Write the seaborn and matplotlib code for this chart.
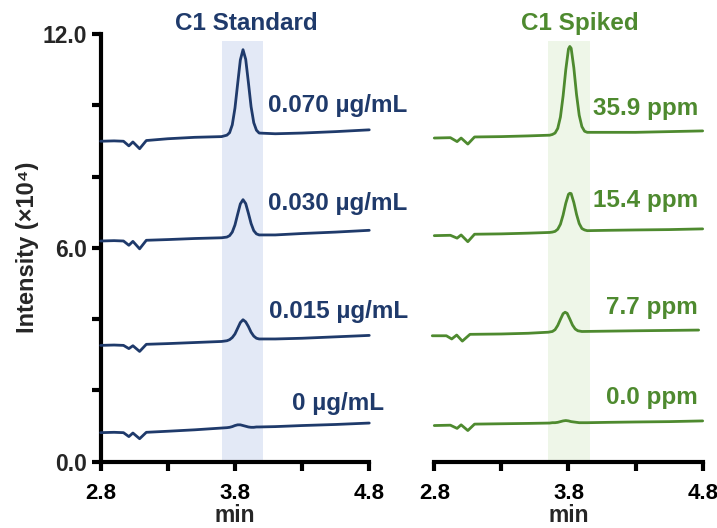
import matplotlib
matplotlib.use('Agg')
import matplotlib.pyplot as plt
import seaborn as sns

# ── Data ─────────────────────────────────────────────────────
# left panel: C1 standard, shared time grid (min)
TIME_STD = [2.80, 2.90, 2.97, 3.01, 3.04, 3.09, 3.14, 3.30, 3.50, 3.70,
            3.74, 3.76, 3.78, 3.80, 3.82, 3.84, 3.86, 3.88, 3.90, 3.92,
            3.94, 3.96, 3.98, 4.10, 4.30, 4.55, 4.80]
STD_070 = [8.99, 9.00, 8.99, 8.86, 8.97, 8.78, 9.01, 9.06, 9.10, 9.12,
           9.16, 9.23, 9.45, 9.92, 10.60, 11.27, 11.56, 11.29, 10.64, 9.96,
           9.51, 9.30, 9.22, 9.20, 9.22, 9.26, 9.31]
STD_030 = [6.19, 6.20, 6.19, 6.07, 6.18, 5.97, 6.21, 6.23, 6.26, 6.28,
           6.30, 6.34, 6.44, 6.64, 6.94, 7.23, 7.35, 7.24, 6.97, 6.68,
           6.48, 6.39, 6.36, 6.36, 6.40, 6.44, 6.49]
STD_015 = [3.26, 3.27, 3.26, 3.17, 3.25, 3.09, 3.29, 3.31, 3.34, 3.37,
           3.39, 3.42, 3.48, 3.58, 3.74, 3.90, 3.98, 3.92, 3.79, 3.63,
           3.52, 3.46, 3.44, 3.44, 3.46, 3.50, 3.54]
STD_000 = [0.81, 0.82, 0.81, 0.70, 0.80, 0.64, 0.82, 0.85, 0.89, 0.94,
           0.95, 0.96, 0.98, 1.01, 1.03, 1.03, 1.01, 0.99, 0.97, 0.96,
           0.96, 0.97, 0.97, 0.98, 1.01, 1.04, 1.08]
STD_LABELS = ['0.070 µg/mL', '0.030 µg/mL', '0.015 µg/mL', '0 µg/mL']
STD_LABEL_Y = [9.80, 7.06, 4.02, 1.45]

# right panel: C1 spiked
TIME_SPK = [2.80, 2.92, 2.97, 3.00, 3.05, 3.10, 3.30, 3.50, 3.66, 3.68,
            3.70, 3.72, 3.74, 3.76, 3.78, 3.80, 3.81, 3.82, 3.84, 3.86,
            3.88, 3.90, 3.92, 3.94, 4.10, 4.30, 4.55, 4.80]
SPK_359 = [9.08, 9.09, 8.98, 9.08, 8.91, 9.11, 9.12, 9.14, 9.16, 9.18,
           9.22, 9.35, 9.67, 10.26, 11.00, 11.58, 11.65, 11.60, 11.05, 10.30,
           9.72, 9.40, 9.27, 9.24, 9.24, 9.24, 9.26, 9.28]
SPK_154 = [6.34, 6.35, 6.27, 6.36, 6.17, 6.38, 6.39, 6.41, 6.43, 6.44,
           6.46, 6.52, 6.66, 6.92, 7.25, 7.50, 7.53, 7.52, 7.27, 6.94,
           6.68, 6.54, 6.50, 6.48, 6.49, 6.50, 6.51, 6.53]
SPK_000 = [1.01, 1.02, 0.93, 1.03, 0.87, 1.05, 1.06, 1.07, 1.08, 1.09,
           1.09, 1.10, 1.12, 1.14, 1.15, 1.14, 1.13, 1.12, 1.11, 1.10,
           1.09, 1.09, 1.09, 1.09, 1.10, 1.11, 1.12, 1.14]
TIME_SPK_77 = [2.785, 2.89, 2.93, 2.967, 3.009, 3.066, 3.30, 3.50, 3.65, 3.68,
               3.70, 3.72, 3.74, 3.76, 3.775, 3.79, 3.81, 3.83, 3.85, 3.87,
               3.90, 4.10, 4.30, 4.55, 4.77]
SPK_077 = [3.53, 3.53, 3.44, 3.55, 3.38, 3.57, 3.58, 3.60, 3.63, 3.65,
           3.70, 3.82, 3.99, 4.15, 4.19, 4.16, 4.00, 3.83, 3.72, 3.67,
           3.65, 3.66, 3.67, 3.68, 3.69]
SPK_LABELS = ['35.9 ppm', '15.4 ppm', '7.7 ppm', '0.0 ppm']
SPK_LABEL_Y = [9.73, 7.14, 4.13, 1.61]

NAVY = '#1f3a6b'
GREEN = '#4e8a2f'
NAVY_BG = '#e3e9f6'
GREEN_BG = '#eef6e8'

sns.set_theme(style='ticks')
plt.rcParams['font.family'] = ['Liberation Sans', 'DejaVu Sans']
plt.rcParams['font.weight'] = 'bold'

fig = plt.figure(figsize=(7.17, 5.28), dpi=100)
ax_l = fig.add_axes([0.1404, 0.1259, 0.3746, 0.8097])
ax_r = fig.add_axes([0.6057, 0.1259, 0.3743, 0.8097])

panels = [
    (ax_l, NAVY, NAVY_BG, (3.70, 4.01), 'C1 Standard',
     [(TIME_STD, STD_070), (TIME_STD, STD_030), (TIME_STD, STD_015), (TIME_STD, STD_000)],
     STD_LABELS, STD_LABEL_Y, 4.568, 'center'),
    (ax_r, GREEN, GREEN_BG, (3.65, 3.96), 'C1 Spiked',
     [(TIME_SPK, SPK_359), (TIME_SPK, SPK_154), (TIME_SPK_77, SPK_077), (TIME_SPK, SPK_000)],
     SPK_LABELS, SPK_LABEL_Y, 4.765, 'right'),
]

for ax, color, bg, span, title, traces, labels, label_y, label_x, ha in panels:
    ax.fill_between(span, 0, 11.8, color=bg, lw=0, zorder=0)
    for t, inten in traces:
        sns.lineplot(x=t, y=inten, ax=ax, color=color, linewidth=2.0,
                     estimator=None, sort=False, zorder=3, clip_on=False)
    for lab, ly in zip(labels, label_y):
        ax.text(label_x, ly, lab, color=color, fontsize=17.5, fontweight='bold',
                ha=ha, va='baseline', clip_on=False)
    ax.text(3.885, 12.3, title, color=color, fontsize=17.5, fontweight='bold',
            ha='center', va='center', clip_on=False)

    ax.set_xlim(2.8, 4.8)
    ax.set_ylim(0, 12)
    ax.set_xticks([2.8, 3.8, 4.8])
    ax.set_xticks([3.3, 4.3], minor=True)
    ax.set_xticklabels(['2.8', '3.8', '4.8'], fontsize=16, fontweight='bold')
    ax.set_xlabel('min', fontsize=16.5, fontweight='bold', labelpad=0)
    ax.tick_params(axis='x', which='both', length=6.5, width=3, color='black',
                   pad=9, labelcolor='black')
    for s in ['top', 'right']:
        ax.spines[s].set_visible(False)
    ax.spines['bottom'].set_linewidth(3)
    ax.spines['bottom'].set_color('black')
    ax.patch.set_alpha(0)

ax_l.set_yticks([0, 6, 12])
ax_l.set_yticks([2, 4, 8, 10], minor=True)
ax_l.set_yticklabels(['0.0', '6.0', '12.0'], fontsize=16.5, fontweight='bold')
ax_l.tick_params(axis='y', which='both', length=6.5, width=3, color='black', pad=3)
ax_l.spines['left'].set_linewidth(3)
ax_l.spines['left'].set_color('black')
ax_l.set_ylabel('Intensity (×10⁴)', fontsize=17, fontweight='bold', labelpad=3)

ax_r.spines['left'].set_visible(False)
ax_r.set_yticks([])
ax_r.set_ylabel('')

fig.savefig('out.png', dpi=100)
